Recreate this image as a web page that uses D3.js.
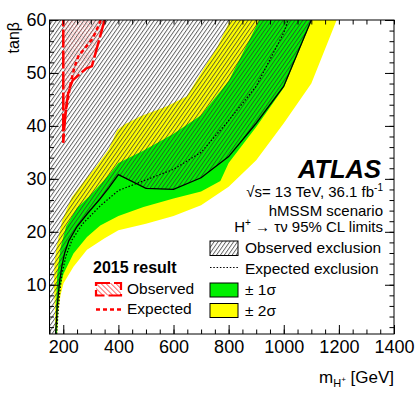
<!DOCTYPE html>
<html>
<head>
<meta charset="utf-8">
<script src="https://cdn.jsdelivr.net/npm/d3@7"></script>
<style>
  body { margin: 0; background: #fff; }
  svg { display: block; font-family: "Liberation Sans", Arial, Helvetica, sans-serif; }
</style>
</head>
<body>
<svg id="chart"></svg>
<script>
// limits: [mass in GeV, tan beta]
const observed = [[172,0.7],[175,3],[178,6],[186,10.3],[195,13.5],[205,16],[220,18.3],[250,21],[290,23.6],[330,26],[365,28.3],[400,30.8],[500,28.2],[600,28],[700,30.2],[800,34.2],[900,40.5],[1000,47.5],[1100,60]];
const expected = [[176,0.7],[180,4],[186,8],[195,12],[210,15.5],[232,18.5],[270,21.5],[334,24.9],[400,27.8],[500,29.8],[600,31.8],[700,35],[800,41],[900,47.5],[1000,57.6],[1016,60]];
const band1Left = [[172,0.7],[174,6],[178,12],[190,17],[210,21],[250,24.5],[300,27],[370,31],[400,33],[490,35.3],[600,38.5],[700,42],[800,48.5],[900,58.8],[910,60]];
const band1Right = [[177,0.7],[180,5],[186,9],[201,12.1],[237,15.9],[286,19],[334,21.2],[400,23],[491,24.7],[600,26.3],[700,27.6],[770,29.6],[800,33],[900,39.8],[1000,47.2],[1102,60]];
const band2Left = [[170,0.7],[170,5],[166,10],[168,14],[175,17],[195,22],[230,26.5],[274,29.5],[322,32.5],[365,35.6],[395,39.2],[420,40.2],[480,41.8],[576,43.7],[648,45.6],[721,51.8],[760,55],[805,60]];
const band2Right = [[178,0.7],[182,5],[190,8],[201,10.3],[237,13.4],[286,16.6],[350,18.8],[400,20.3],[500,21.5],[600,23],[700,25],[800,28.5],[900,33.5],[1000,40.5],[1100,48],[1192,60]];

// 2015 result
const observed2015 = [[350,60],[304,51.3],[282,50.8],[234,48.6],[219,46.6],[210,43.2],[204,40],[200,36.8],[200,60]];
const expected2015 = [[336,60],[322,58.2],[304,56.3],[274,54.4],[255,53.2],[240,51],[225,47.6],[217,45.1],[210,43.2],[204,40.7],[201,39.4]];

const massTicks = [200,400,600,800,1000,1200,1400];
const tanbTicks = [10,20,30,40,50,60];

const width = 415;
const height = 399;
const marginTop = 20;
const marginRight = 21;
const marginBottom = 65;
const marginLeft = 49.5;

const svg = d3.select('#chart')
  .attr('width', width)
  .attr('height', height);

const x = d3.scaleLinear()
  .domain([150, 1400])
  .range([marginLeft, width - marginRight]);

const y = d3.scaleLinear()
  .domain([0.7, 60])
  .range([height - marginBottom, marginTop]);

const defs = svg.append('defs');

defs.append('clipPath').attr('id', 'plot')
  .append('rect')
  .attr('x', marginLeft).attr('y', marginTop)
  .attr('width', x(1400) - x(150)).attr('height', y(0.7) - y(60));

// grey hatch for the observed exclusion
const hatch = defs.append('pattern')
  .attr('id', 'hatch')
  .attr('patternUnits', 'userSpaceOnUse')
  .attr('width', 3.2).attr('height', 10)
  .attr('patternTransform', 'rotate(35)');
hatch.append('line')
  .attr('x1', 0.5).attr('y1', 0).attr('x2', 0.5).attr('y2', 10)
  .attr('stroke', '#333').attr('stroke-width', 0.8);

// red cross hatch for 2015
const cross = defs.append('pattern')
  .attr('id', 'cross')
  .attr('patternUnits', 'userSpaceOnUse')
  .attr('width', 3).attr('height', 3)
  .attr('patternTransform', 'rotate(45)');
cross.append('line').attr('x1', 0).attr('y1', 0).attr('x2', 0).attr('y2', 3)
  .attr('stroke', '#f55').attr('stroke-width', 0.7).attr('opacity', 0.6);
cross.append('line').attr('x1', 0).attr('y1', 0).attr('x2', 3).attr('y2', 0)
  .attr('stroke', '#f55').attr('stroke-width', 0.7).attr('opacity', 0.6);

const redHatch = defs.append('pattern')
  .attr('id', 'redhatch')
  .attr('patternUnits', 'userSpaceOnUse')
  .attr('width', 3.5).attr('height', 10)
  .attr('patternTransform', 'rotate(-45)');
redHatch.append('line').attr('x1', 0.5).attr('y1', 0).attr('x2', 0.5).attr('y2', 10)
  .attr('stroke', '#f33').attr('stroke-width', 0.8);

const line = d3.line()
  .x(d => x(d[0]))
  .y(d => y(d[1]));

const plot = svg.append('g').attr('clip-path', 'url(#plot)');

// bands
plot.append('path')
  .attr('d', line(band2Left.concat(band2Right.slice().reverse())) + 'Z')
  .attr('fill', '#ffff00');

plot.append('path')
  .attr('d', line(band1Left.concat(band1Right.slice().reverse())) + 'Z')
  .attr('fill', '#00f000');

// observed excluded region (everything left of the observed line)
plot.append('path')
  .attr('d', line(observed.concat([[150, 60], [150, 0.7]])) + 'Z')
  .attr('fill', 'url(#hatch)');

plot.append('path')
  .attr('d', line(expected))
  .attr('fill', 'none')
  .attr('stroke', '#000')
  .attr('stroke-width', 1.2)
  .attr('stroke-dasharray', '1.5,1.8');

plot.append('path')
  .attr('d', line(observed))
  .attr('fill', 'none')
  .attr('stroke', '#000')
  .attr('stroke-width', 1.3);

// 2015 result
plot.append('path')
  .attr('d', line(observed2015) + 'Z')
  .attr('fill', 'url(#cross)');

plot.append('path')
  .attr('d', line(observed2015))
  .attr('fill', 'none')
  .attr('stroke', '#ff0000')
  .attr('stroke-width', 2.5)
  .attr('stroke-dasharray', '18,3');

plot.append('path')
  .attr('d', line(expected2015))
  .attr('fill', 'none')
  .attr('stroke', '#ff0000')
  .attr('stroke-width', 2.5)
  .attr('stroke-dasharray', '4,3');

// frame and ticks
const minorX = d3.range(150, 1401, 50);
const minorY = d3.range(2, 60, 2);

svg.append('g')
  .attr('transform', `translate(0, ${height - marginBottom})`)
  .call(d3.axisBottom(x).tickValues(massTicks).tickSize(-9).tickPadding(6).tickFormat(d3.format('d')))
  .call(g => g.select('.domain').remove())
  .call(g => g.selectAll('text').attr('font-size', 18).attr('font-family', null).attr('dy', '0.71em'));

svg.append('g')
  .attr('transform', `translate(0, ${height - marginBottom})`)
  .call(d3.axisBottom(x).tickValues(minorX).tickSize(-4.5).tickFormat(''))
  .call(g => g.select('.domain').remove());

svg.append('g')
  .attr('transform', `translate(0, ${marginTop})`)
  .call(d3.axisTop(x).tickValues(massTicks).tickSize(-9).tickFormat(''))
  .call(d3.axisTop(x).tickValues(minorX).tickSize(-4.5).tickFormat(''))
  .call(g => g.select('.domain').remove());

svg.append('g')
  .attr('transform', `translate(${marginLeft}, 0)`)
  .call(d3.axisLeft(y).tickValues(tanbTicks).tickSize(-9).tickPadding(3).tickFormat(d3.format('d')))
  .call(g => g.select('.domain').remove())
  .call(g => g.selectAll('text').attr('font-size', 18).attr('font-family', null));

svg.append('g')
  .attr('transform', `translate(${marginLeft}, 0)`)
  .call(d3.axisLeft(y).tickValues(minorY).tickSize(-4.5).tickFormat(''))
  .call(g => g.select('.domain').remove());

svg.append('g')
  .attr('transform', `translate(${width - marginRight}, 0)`)
  .call(d3.axisRight(y).tickValues(tanbTicks).tickSize(-9).tickFormat(''))
  .call(g => g.select('.domain').remove());

svg.append('g')
  .attr('transform', `translate(${width - marginRight}, 0)`)
  .call(d3.axisRight(y).tickValues(minorY).tickSize(-4.5).tickFormat(''))
  .call(g => g.select('.domain').remove());

svg.append('rect')
  .attr('x', marginLeft).attr('y', marginTop)
  .attr('width', x(1400) - x(150)).attr('height', y(0.7) - y(60))
  .attr('fill', 'none').attr('stroke', '#000').attr('stroke-width', 1);

// axis titles
svg.append('text')
  .attr('transform', `translate(18.5, ${marginTop + 2}) rotate(-90)`)
  .attr('text-anchor', 'end')
  .attr('font-size', 16)
  .text('tanβ');

const xTitle = svg.append('text')
  .attr('x', width - marginRight)
  .attr('y', 383)
  .attr('text-anchor', 'end')
  .attr('font-size', 17);
xTitle.append('tspan').text('m');
xTitle.append('tspan').attr('font-size', 11).attr('dy', 4).text('H');
xTitle.append('tspan').attr('font-size', 8).attr('dy', -5).text('+');
xTitle.append('tspan').attr('dy', 1).text(' [GeV]');

// labels top right
svg.append('text')
  .attr('x', 381).attr('y', 178.3)
  .attr('text-anchor', 'end')
  .attr('font-size', 25.5).attr('font-weight', 'bold').attr('font-style', 'italic')
  .text('ATLAS');

const sqrtS = svg.append('text')
  .attr('x', 383).attr('y', 197)
  .attr('text-anchor', 'end')
  .attr('font-size', 15);
sqrtS.append('tspan').text('√s= 13 TeV, 36.1 fb');
sqrtS.append('tspan').attr('font-size', 10).attr('dy', -6).text('-1');

svg.append('text')
  .attr('x', 383).attr('y', 215.7)
  .attr('text-anchor', 'end')
  .attr('font-size', 15)
  .text('hMSSM scenario');

const decay = svg.append('text')
  .attr('x', 383).attr('y', 231.7)
  .attr('text-anchor', 'end')
  .attr('font-size', 15);
decay.append('tspan').text('H');
decay.append('tspan').attr('font-size', 10).attr('dy', -6).text('+');
decay.append('tspan').attr('dy', 6).text(' → τν 95% CL limits');

// legend right
const legend = svg.append('g').attr('font-size', 15.5);

legend.append('rect')
  .attr('x', 210).attr('y', 241).attr('width', 28).attr('height', 14.5)
  .attr('fill', 'url(#hatch)').attr('stroke', '#000').attr('stroke-width', 1);
legend.append('text').attr('x', 245).attr('y', 253.3).text('Observed exclusion');

legend.append('line')
  .attr('x1', 210).attr('x2', 238).attr('y1', 267.5).attr('y2', 267.5)
  .attr('stroke', '#000').attr('stroke-width', 1.2).attr('stroke-dasharray', '1.5,1.8');
legend.append('text').attr('x', 245).attr('y', 273.5).text('Expected exclusion');

legend.append('rect')
  .attr('x', 210).attr('y', 283).attr('width', 28).attr('height', 14)
  .attr('fill', '#00f000').attr('stroke', '#000').attr('stroke-width', 1);
legend.append('text').attr('x', 245).attr('y', 295).text('± 1σ');

legend.append('rect')
  .attr('x', 210).attr('y', 303.5).attr('width', 28).attr('height', 14)
  .attr('fill', '#ffff00').attr('stroke', '#000').attr('stroke-width', 1);
legend.append('text').attr('x', 245).attr('y', 315.7).text('± 2σ');

// legend 2015
const legend15 = svg.append('g').attr('font-size', 15.5);

legend15.append('text')
  .attr('x', 93).attr('y', 272.7)
  .attr('font-weight', 'bold').attr('font-size', 16)
  .text('2015 result');

legend15.append('rect')
  .attr('x', 96).attr('y', 283).attr('width', 25).attr('height', 12.5)
  .attr('fill', 'url(#redhatch)').attr('stroke', '#ff0000').attr('stroke-width', 2.2)
  .attr('stroke-dasharray', '14,4');
legend15.append('text').attr('x', 127).attr('y', 294).text('Observed');

legend15.append('line')
  .attr('x1', 96).attr('x2', 122).attr('y1', 309.5).attr('y2', 309.5)
  .attr('stroke', '#ff0000').attr('stroke-width', 2.5).attr('stroke-dasharray', '4,3');
legend15.append('text').attr('x', 127).attr('y', 314).text('Expected');
</script>
</body>
</html>
